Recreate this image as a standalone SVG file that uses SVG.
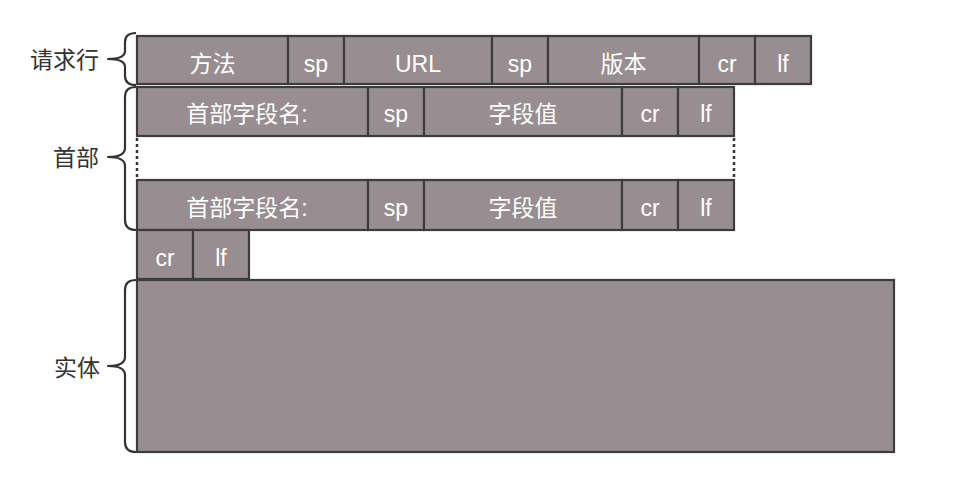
<svg xmlns="http://www.w3.org/2000/svg" width="968" height="488" viewBox="0 0 968 488">
<style>
.b{fill:#988d90;stroke:#3c3c3c;stroke-width:2.2}
.t{fill:#ffffff;font-family:"Liberation Sans","Noto Sans CJK SC",sans-serif;font-size:23px;text-anchor:middle}
.l{fill:#333333;font-family:"Liberation Sans","Noto Sans CJK SC",sans-serif;font-size:23px;text-anchor:end}
.br{fill:none;stroke:#333333;stroke-width:2.2;stroke-linejoin:round}
.dot{stroke:#333333;stroke-width:2.5;stroke-dasharray:3 3}
</style>
<rect width="968" height="488" fill="#ffffff"/>
<g id="request-line">
<rect class="b" x="137" y="36" width="151" height="48"/>
<rect class="b" x="288" y="36" width="56" height="48"/>
<rect class="b" x="344" y="36" width="148" height="48"/>
<rect class="b" x="492" y="36" width="56" height="48"/>
<rect class="b" x="548" y="36" width="151" height="48"/>
<rect class="b" x="699" y="36" width="56" height="48"/>
<rect class="b" x="755" y="36" width="56" height="48"/>
<text class="t" x="212.5" y="72">方法</text>
<text class="t" x="316" y="72">sp</text>
<text class="t" x="418" y="72">URL</text>
<text class="t" x="520" y="72">sp</text>
<text class="t" x="623.5" y="72">版本</text>
<text class="t" x="727" y="72">cr</text>
<text class="t" x="783" y="72">lf</text>
</g>
<g id="header-1">
<rect class="b" x="137" y="87" width="231" height="49"/>
<rect class="b" x="368" y="87" width="56" height="49"/>
<rect class="b" x="424" y="87" width="198" height="49"/>
<rect class="b" x="622" y="87" width="56" height="49"/>
<rect class="b" x="678" y="87" width="56" height="49"/>
<text class="t" x="247" y="122">首部字段名:</text>
<text class="t" x="396" y="122">sp</text>
<text class="t" x="523" y="122">字段值</text>
<text class="t" x="650" y="122">cr</text>
<text class="t" x="706" y="122">lf</text>
</g>
<g id="header-dots">
<line class="dot" x1="137" y1="138" x2="137" y2="179"/>
<line class="dot" x1="734" y1="138" x2="734" y2="179"/>
</g>
<g id="header-n">
<rect class="b" x="137" y="180" width="231" height="50"/>
<rect class="b" x="368" y="180" width="56" height="50"/>
<rect class="b" x="424" y="180" width="198" height="50"/>
<rect class="b" x="622" y="180" width="56" height="50"/>
<rect class="b" x="678" y="180" width="56" height="50"/>
<text class="t" x="247" y="216">首部字段名:</text>
<text class="t" x="396" y="216">sp</text>
<text class="t" x="523" y="216">字段值</text>
<text class="t" x="650" y="216">cr</text>
<text class="t" x="706" y="216">lf</text>
</g>
<g id="crlf">
<rect class="b" x="137" y="230" width="56" height="49"/>
<rect class="b" x="193" y="230" width="56" height="49"/>
<text class="t" x="165" y="266">cr</text>
<text class="t" x="221" y="266">lf</text>
</g>
<g id="body">
<rect class="b" x="137" y="280" width="757" height="172"/>
</g>
<g id="braces">
<path class="br" d="M136,33 Q125,33 125,42 L125,51 Q125,59 108,59 Q125,59 125,67 L125,76 Q125,85 136,85"/>
<path class="br" d="M136,87 Q125,87 125,97 L125,148 Q125,157 108,157 Q125,157 125,166 L125,220 Q125,230 136,230"/>
<path class="br" d="M136,280 Q125,280 125,290 L125,357 Q125,366 108,366 Q125,366 125,375 L125,442 Q125,452 136,452"/>
</g>
<g id="labels">
<text class="l" x="99" y="68">请求行</text>
<text class="l" x="99" y="166">首部</text>
<text class="l" x="100" y="376">实体</text>
</g>
</svg>
